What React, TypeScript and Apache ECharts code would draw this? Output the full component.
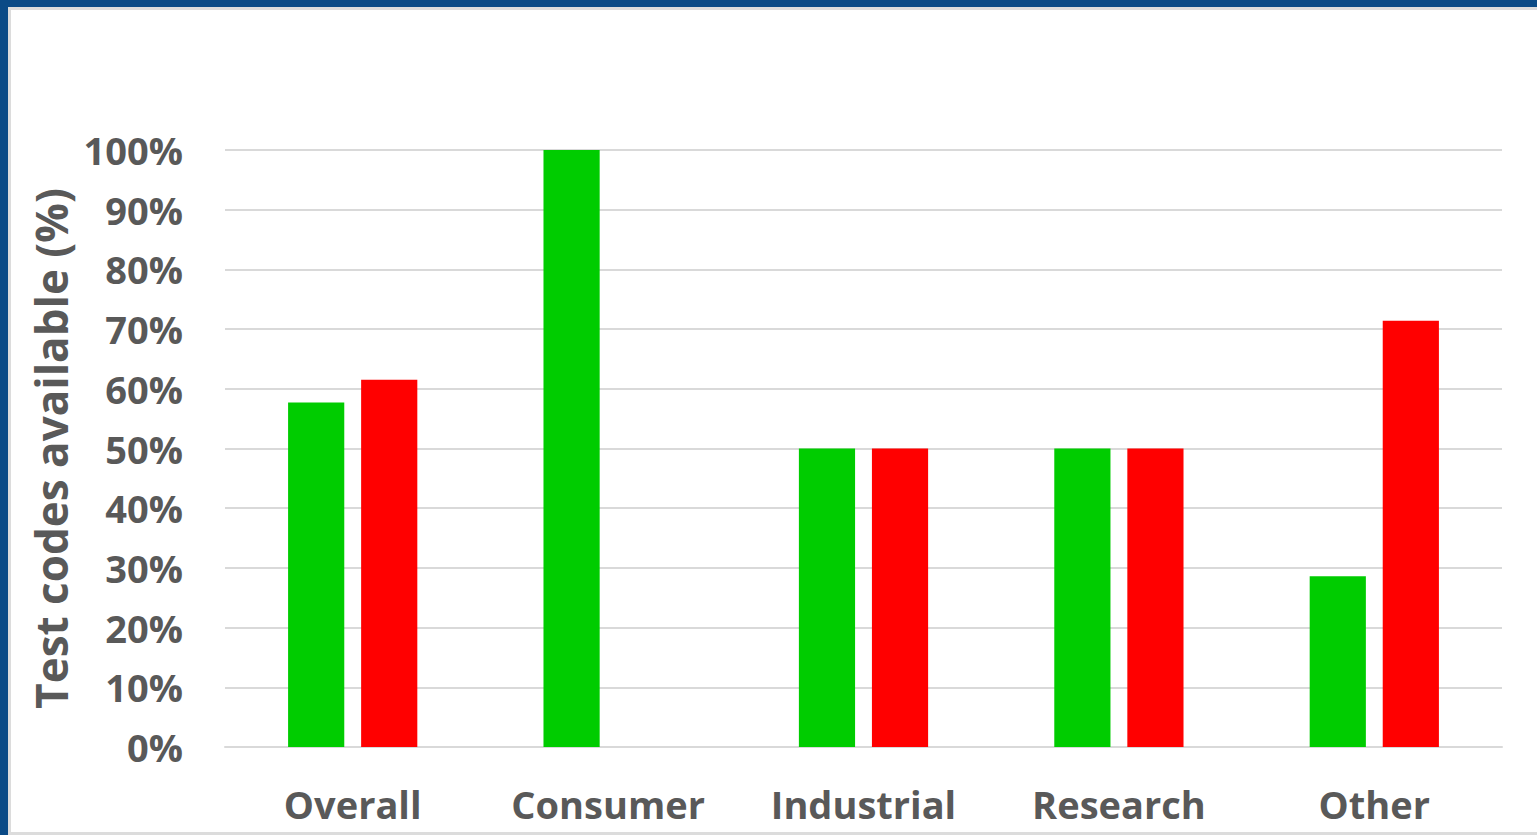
import React, { useEffect, useRef } from "react";
import * as echarts from "echarts";

const categories = ["Overall", "Consumer", "Industrial", "Research", "Other"];
const greenValues = [57.7, 100, 50, 50, 28.6];
const redValues: (number | null)[] = [61.5, null, 50, 50, 71.4];
const yTicks = [0, 10, 20, 30, 40, 50, 60, 70, 80, 90, 100];

export default function App() {
  const ref = useRef<HTMLDivElement>(null);
  useEffect(() => {
    document.body.style.margin = "0";
    const chart = echarts.init(ref.current!, null, { renderer: "svg" });
    const font = "'Open Sans', Lato, sans-serif";
    chart.setOption({
      animation: false,
      backgroundColor: "#ffffff",
      graphic: [
        { type: "rect", shape: { x: 0, y: 0, width: 1537, height: 7 }, style: { fill: "#0a4a86" }, z: 10 },
        { type: "rect", shape: { x: 0, y: 0, width: 8, height: 835 }, style: { fill: "#0a4a86" }, z: 10 },
        { type: "rect", shape: { x: 8, y: 7, width: 1529, height: 3 }, style: { fill: "#dcdcdc" }, z: 9 },
        { type: "rect", shape: { x: 8, y: 7, width: 3, height: 828 }, style: { fill: "#dcdcdc" }, z: 9 },
        { type: "rect", shape: { x: 8, y: 832, width: 1529, height: 3 }, style: { fill: "#dcdcdc" }, z: 9 },
      ],
      grid: { left: 225, right: 35, top: 150, bottom: 88, containLabel: false },
      xAxis: {
        type: "category",
        data: categories,
        axisLine: { show: true, lineStyle: { color: "#d9d9d9", width: 2 } },
        axisTick: { show: false },
        axisLabel: { color: "#595959", fontSize: 38, fontWeight: "bold", fontFamily: font, margin: 38 },
      },
      yAxis: {
        type: "value",
        min: 0,
        max: 100,
        interval: 10,
        name: "Test codes available (%)",
        nameLocation: "middle",
        nameGap: 148,
        nameRotate: 90,
        nameTextStyle: { color: "#595959", fontSize: 44, fontWeight: "bold", fontFamily: font },
        axisLine: { show: false },
        axisTick: { show: false },
        splitLine: { lineStyle: { color: "#d9d9d9", width: 2 } },
        axisLabel: {
          color: "#595959",
          fontSize: 38,
          fontWeight: "bold",
          fontFamily: font,
          margin: 42,
          formatter: (v: number) => (yTicks.includes(v) ? v + "%" : ""),
        },
      },
      series: [
        {
          type: "bar",
          data: greenValues,
          barWidth: "22%",
          barGap: "30%",
          itemStyle: { color: "#00cc00" },
        },
        {
          type: "bar",
          data: redValues,
          barWidth: "22%",
          itemStyle: { color: "#ff0000" },
        },
      ],
    });
    return () => chart.dispose();
  }, []);
  return <div ref={ref} style={{ width: 1537, height: 835 }} />;
}
